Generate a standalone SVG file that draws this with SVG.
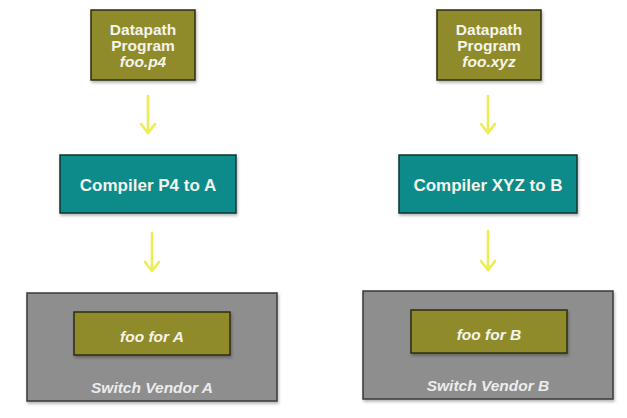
<svg xmlns="http://www.w3.org/2000/svg" width="627" height="418" viewBox="0 0 627 418">
<defs>
<filter id="sh" x="-10%" y="-10%" width="130%" height="140%">
<feDropShadow dx="1" dy="2" stdDeviation="1.5" flood-color="#000" flood-opacity="0.3"/>
</filter>
<style>
.olive{fill:#8f8b2c;stroke:#2d2c12;stroke-width:1.5;filter:url(#sh)}
.teal{fill:#0e8b8b;stroke:#0f3434;stroke-width:1.5;filter:url(#sh)}
.gray{fill:#8e8e8e;stroke:#3a3a3a;stroke-width:1.5;filter:url(#sh)}
text{font-family:"Liberation Sans",Arial,sans-serif;font-weight:bold;text-anchor:middle;fill:#f4f4ea}
.t14{font-size:15.5px}
.t16{font-size:17px}
.it{font-style:italic}
.sv{font-size:15.5px;font-style:italic;fill:#ececec}
.conn line{stroke:#ecec55;stroke-width:2.6;stroke-linecap:round}
.conn path{fill:none;stroke:#ecec55;stroke-width:2.6;stroke-linecap:round;stroke-linejoin:round}
</style>
</defs>
<rect width="627" height="418" fill="#ffffff"/>

<g id="connectors" class="conn">
<line x1="148" y1="96" x2="148" y2="133"/>
<path d="M141,124 L148,133 L155,124"/>
<line x1="152" y1="233" x2="152" y2="271"/>
<path d="M145,262 L152,271 L159,262"/>
<line x1="488" y1="96" x2="488" y2="133"/>
<path d="M481,124 L488,133 L495,124"/>
<line x1="488" y1="231" x2="488" y2="270"/>
<path d="M481,261 L488,270 L495,261"/>
</g>

<g id="datapathA">
<rect class="olive" x="91" y="10" width="104" height="70"/>
<text class="t14" x="143" y="34.5">Datapath</text>
<text class="t14" x="143" y="50.5">Program</text>
<text class="t14 it" x="143" y="66.5">foo.p4</text>
</g>

<g id="datapathB">
<rect class="olive" x="437" y="10" width="104" height="70"/>
<text class="t14" x="489" y="34.5">Datapath</text>
<text class="t14" x="489" y="50.5">Program</text>
<text class="t14 it" x="489" y="66.5">foo.xyz</text>
</g>

<g id="compilerA">
<rect class="teal" x="60" y="155" width="176" height="58"/>
<text class="t16" x="148" y="191">Compiler P4 to A</text>
</g>

<g id="compilerB">
<rect class="teal" x="399" y="155" width="178" height="58"/>
<text class="t16" x="488" y="191">Compiler XYZ to B</text>
</g>

<g id="switchA">
<rect class="gray" x="27" y="293" width="250" height="108"/>
<text class="sv" x="152" y="392.5">Switch Vendor A</text>
</g>

<g id="fooA">
<rect class="olive" x="74" y="312" width="156" height="43"/>
<text class="t14 it" x="152" y="341.5">foo for A</text>
</g>

<g id="switchB">
<rect class="gray" x="363" y="291" width="250" height="108"/>
<text class="sv" x="488" y="390.5">Switch Vendor B</text>
</g>

<g id="fooB">
<rect class="olive" x="411" y="310" width="156" height="43"/>
<text class="t14 it" x="489" y="339.5">foo for B</text>
</g>
</svg>
